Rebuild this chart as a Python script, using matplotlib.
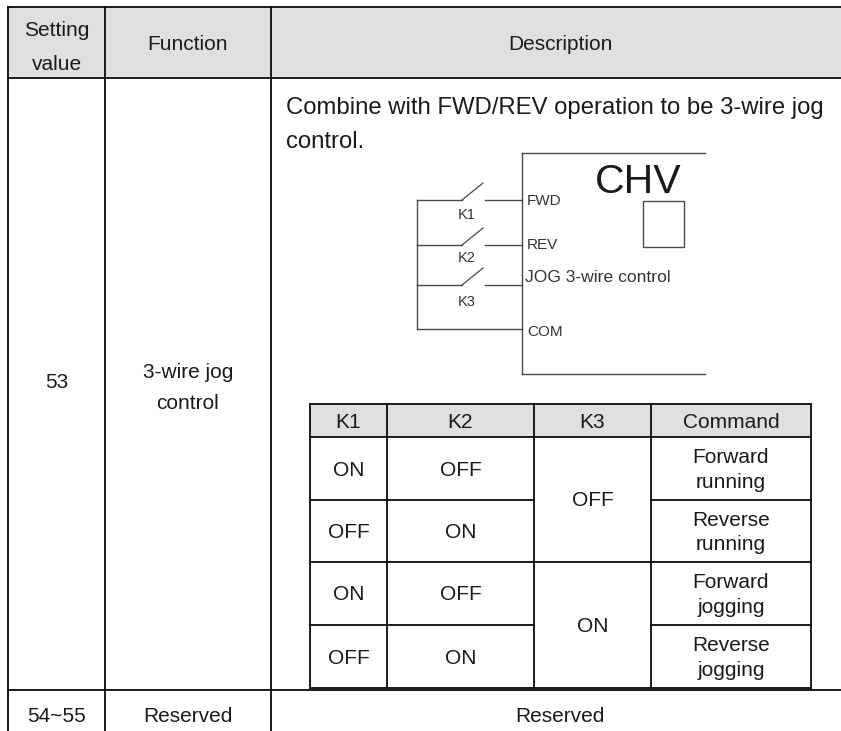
import matplotlib
matplotlib.use('Agg')
from matplotlib import pyplot as plt
from matplotlib.patches import Rectangle

plt.rcParams['font.family'] = ['Liberation Sans', 'DejaVu Sans']

W, H = 841, 731
INK = '#0a0a0a'
HEAD = '#e0e0e0'

# main table
main_cols = ['Setting\nvalue', 'Function', 'Description']
row_53 = ['53', '3-wire jog\ncontrol']
row_54 = ['54~55', 'Reserved', 'Reserved']
intro_text = 'Combine with FWD/REV operation to be 3-wire jog\ncontrol.'

# inner table
inner_cols = ['K1', 'K2', 'K3', 'Command']
k1_vals = ['ON', 'OFF', 'ON', 'OFF']
k2_vals = ['OFF', 'ON', 'OFF', 'ON']
k3_vals = ['OFF', 'ON']
command_vals = ['Forward\nrunning', 'Reverse\nrunning', 'Forward\njogging', 'Reverse\njogging']

# wiring diagram labels
terminals = ['FWD', 'REV', 'JOG 3-wire control', 'COM']
switches = ['K1', 'K2', 'K3']

fig = plt.figure(figsize=(W / 100, H / 100), dpi=100)
ax = fig.add_axes([0, 0, 1, 1])
ax.set_xlim(0, W)
ax.set_ylim(H, 0)
ax.axis('off')


def line(x, y, lw=1.3, color=INK):
    ax.plot(x, y, color=color, lw=lw, solid_capstyle='projecting')


def label(x, y, s, size=15, ha='center', color='#1a1a1a', ls=1.38):
    ax.text(x, y, s, fontsize=size, ha=ha, va='center', color=color, linespacing=ls)


# main table, right edge runs off the picture
mx = [8, 105, 271, 849]
my = [7, 78, 690, 740]
ax.add_patch(Rectangle((mx[0], my[0]), mx[3] - mx[0], my[1] - my[0], color=HEAD, lw=0))
for x in mx:
    line([x, x], [my[0], my[3]])
for y in my[:3]:
    line([mx[0], mx[3]], [y, y])

centres = [(mx[i] + mx[i + 1]) / 2 for i in range(3)]
label(centres[0], 47, main_cols[0], ls=2.0)
label(centres[1], 45, main_cols[1])
label(centres[2], 45, main_cols[2])
label(centres[0], 382, row_53[0])
label(centres[1], 388, row_53[1], ls=1.77)
for c, s in zip(centres, row_54):
    label(c, 716, s)
ax.text(286, 125, intro_text, fontsize=17.2, ha='left', va='center', color='#1a1a1a', linespacing=1.66)

# inner table
kx = [310, 387, 534, 651, 811]
ky = [404, 437, 500, 562, 625, 688]
ax.add_patch(Rectangle((kx[0], ky[0]), kx[4] - kx[0], ky[1] - ky[0], color=HEAD, lw=0))
for x in kx:
    line([x, x], [ky[0], ky[5]])
line([kx[0], kx[4]], [ky[0], ky[0]])
line([kx[0], kx[4]], [ky[1], ky[1]])
line([kx[0], kx[4]], [ky[5], ky[5]])
line([kx[0], kx[2]], [ky[2], ky[2]])
line([kx[3], kx[4]], [ky[2], ky[2]])
line([kx[0], kx[4]], [ky[3], ky[3]])
line([kx[0], kx[2]], [ky[4], ky[4]])
line([kx[3], kx[4]], [ky[4], ky[4]])

kc = [(kx[i] + kx[i + 1]) / 2 for i in range(4)]
for c, s in zip(kc, inner_cols):
    label(c, 423, s)
for i in range(4):
    yc = (ky[i + 1] + ky[i + 2]) / 2 + 1.5
    label(kc[0], yc, k1_vals[i])
    label(kc[1], yc, k2_vals[i])
    label(kc[3], yc, command_vals[i])
label(kc[2], (ky[1] + ky[3]) / 2 + 1.5, k3_vals[0])
label(kc[2], (ky[3] + ky[5]) / 2 + 1.5, k3_vals[1])

# wiring diagram
GREY = '#4a4a4a'
line([522, 705], [153, 153], lw=1.0, color=GREY)
line([522, 522], [153, 374], lw=1.0, color=GREY)
line([522, 705], [374, 374], lw=1.0, color=GREY)
ax.add_patch(Rectangle((643, 201), 41, 46, fill=False, ec=GREY, lw=1.0))
ax.text(595, 182, 'CHV', fontsize=29.5, ha='left', va='center', color='#1a1a1a')
term_y = [201, 245, 278, 332]
for y, s in zip(term_y, terminals):
    x = 525 if s.startswith('JOG') else 527
    ax.text(x, y, s, fontsize=12.6 if s.startswith('JOG') else 11, ha='left', va='center', color='#333333')
sw_y = [200, 245, 285]
sw_lab_y = [215, 258, 302]
for y, ly, s in zip(sw_y, sw_lab_y, switches):
    line([417, 462], [y, y], lw=1.0, color=GREY)
    line([485, 522], [y, y], lw=1.0, color=GREY)
    line([462, 483], [y, y - 17], lw=0.9, color=GREY)
    label(467, ly, s, size=10.5, color='#333333')
line([417, 417], [200, 329], lw=1.0, color=GREY)
line([417, 522], [329, 329], lw=1.0, color=GREY)

fig.savefig('out.png', dpi=100)
